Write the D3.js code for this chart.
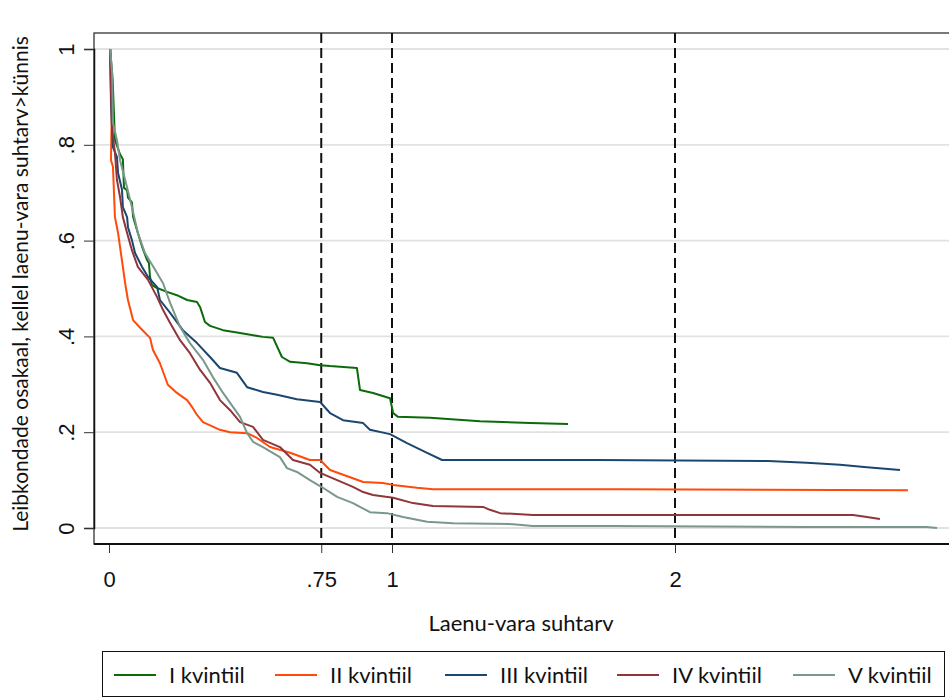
<!DOCTYPE html>
<html>
<head>
<meta charset="utf-8">
<script src="https://cdn.jsdelivr.net/npm/d3@7"></script>
<style>
  body { margin: 0; background: #fff; }
  svg { font-family: Lato, "Open Sans", sans-serif; }
</style>
</head>
<body>
<svg id="chart" width="949" height="699"></svg>
<script>
// share of households with loan-to-value above threshold, by income quintile
var seriesNames = ["I kvintiil", "II kvintiil", "III kvintiil", "IV kvintiil", "V kvintiil"]
var seriesColors = ["#0b6b0b", "#ff4a0a", "#1a476f", "#90353b", "#7a978c"]

var q1 = [[0.004,1],[0.013,0.935],[0.021,0.81],[0.039,0.78],[0.049,0.77],[0.053,0.71],[0.064,0.705],[0.067,0.69],
  [0.081,0.68],[0.085,0.65],[0.102,0.616],[0.117,0.587],[0.134,0.56],[0.141,0.553],[0.145,0.524],[0.152,0.507],
  [0.17,0.501],[0.205,0.493],[0.24,0.486],[0.276,0.476],[0.311,0.472],[0.322,0.461],[0.339,0.43],[0.357,0.422],
  [0.403,0.413],[0.463,0.407],[0.544,0.399],[0.58,0.397],[0.611,0.357],[0.64,0.347],[0.70,0.344],[0.746,0.34],
  [0.781,0.338],[0.876,0.334],[0.887,0.288],[0.933,0.282],[0.993,0.271],[1.004,0.24],[1.021,0.232],[1.134,0.23],
  [1.311,0.223],[1.488,0.219],[1.622,0.217]]

var q2 = [[0.004,1],[0.01,0.873],[0.007,0.768],[0.014,0.754],[0.021,0.649],[0.032,0.616],[0.049,0.545],[0.057,0.511],
  [0.067,0.476],[0.085,0.434],[0.11,0.418],[0.145,0.397],[0.155,0.372],[0.18,0.344],[0.208,0.299],[0.24,0.282],
  [0.276,0.267],[0.293,0.253],[0.311,0.236],[0.332,0.221],[0.392,0.205],[0.428,0.2],[0.488,0.198],[0.523,0.188],
  [0.569,0.169],[0.64,0.157],[0.71,0.142],[0.746,0.142],[0.781,0.121],[0.852,0.106],[0.898,0.096],[0.968,0.094],
  [1.004,0.09],[1.088,0.084],[1.145,0.081],[1.806,0.081],[2.823,0.079]]

var q3 = [[0.004,1],[0.007,0.887],[0.014,0.795],[0.028,0.775],[0.032,0.741],[0.046,0.706],[0.049,0.67],[0.064,0.649],
  [0.067,0.628],[0.081,0.601],[0.092,0.574],[0.117,0.545],[0.138,0.524],[0.17,0.503],[0.18,0.476],[0.216,0.449],
  [0.261,0.413],[0.311,0.386],[0.357,0.357],[0.392,0.334],[0.452,0.324],[0.488,0.294],[0.544,0.284],[0.594,0.278],
  [0.664,0.269],[0.746,0.263],[0.781,0.24],[0.827,0.225],[0.898,0.219],[0.922,0.205],[0.993,0.196],[1.053,0.177],
  [1.124,0.157],[1.177,0.142],[1.724,0.142],[2.329,0.14],[2.466,0.136],[2.583,0.132],[2.678,0.127],[2.795,0.121]]

var q4 = [[0.004,1],[0.007,0.91],[0.011,0.831],[0.021,0.783],[0.028,0.727],[0.039,0.691],[0.049,0.649],[0.064,0.616],
  [0.081,0.58],[0.102,0.545],[0.138,0.518],[0.17,0.482],[0.191,0.455],[0.216,0.428],[0.251,0.392],[0.286,0.365],
  [0.322,0.33],[0.357,0.303],[0.392,0.267],[0.428,0.246],[0.463,0.221],[0.509,0.211],[0.544,0.184],[0.604,0.169],
  [0.65,0.142],[0.71,0.132],[0.746,0.115],[0.806,0.1],[0.862,0.086],[0.898,0.075],[0.933,0.069],[1.004,0.063],
  [1.074,0.052],[1.145,0.046],[1.322,0.044],[1.346,0.038],[1.382,0.031],[1.498,0.027],[2.629,0.027],[2.678,0.023],
  [2.724,0.019]]

var q5 = [[0.004,1],[0.011,0.95],[0.014,0.846],[0.028,0.81],[0.039,0.768],[0.057,0.727],[0.081,0.67],[0.102,0.616],
  [0.127,0.574],[0.163,0.539],[0.191,0.511],[0.216,0.47],[0.251,0.42],[0.286,0.386],[0.332,0.351],[0.367,0.315],
  [0.403,0.282],[0.438,0.253],[0.463,0.232],[0.488,0.198],[0.509,0.18],[0.544,0.169],[0.604,0.148],[0.629,0.125],
  [0.664,0.117],[0.71,0.1],[0.756,0.084],[0.806,0.065],[0.862,0.052],[0.922,0.033],[0.982,0.031],[1.039,0.023],
  [1.124,0.013],[1.216,0.01],[1.428,0.008],[1.498,0.004],[1.781,0.004],[2.466,0.002],[2.89,0.002],[2.926,0]]

var seriesData = [q1, q2, q3, q4, q5]
var yTicks = [0, 0.2, 0.4, 0.6, 0.8, 1]
var yTickLabels = ["0", ".2", ".4", ".6", ".8", "1"]
var xTicks = [0, 0.75, 1, 2]
var xTickLabels = ["0", ".75", "1", "2"]
var thresholds = [0.75, 1, 2]

var dimensions = {
    width: 949,
    height: 699,
    plot: { left: 94, top: 33, right: 949, bottom: 544 }
}

var svg = d3.select("#chart")

var xScale = d3.scaleLinear().domain([0, 2]).range([109, 675])
var yScale = d3.scaleLinear().domain([0, 1]).range([528, 49])

// gridlines
svg.append("g")
   .selectAll("line")
   .data(yTicks)
   .enter()
   .append("line")
   .attr("x1", dimensions.plot.left)
   .attr("x2", dimensions.plot.right)
   .attr("y1", d => yScale(d))
   .attr("y2", d => yScale(d))
   .attr("stroke", "#e2e2e2")
   .attr("stroke-width", 1.8)

// plot region outline
svg.append("rect")
   .attr("x", dimensions.plot.left)
   .attr("y", dimensions.plot.top)
   .attr("width", dimensions.plot.right - dimensions.plot.left + 2)
   .attr("height", dimensions.plot.bottom - dimensions.plot.top)
   .attr("fill", "none")
   .attr("stroke", "#222")
   .attr("stroke-width", 1.2)

// threshold lines
svg.append("g")
   .selectAll("line")
   .data(thresholds)
   .enter()
   .append("line")
   .attr("x1", d => xScale(d))
   .attr("x2", d => xScale(d))
   .attr("y1", dimensions.plot.top)
   .attr("y2", dimensions.plot.bottom)
   .attr("stroke", "#111")
   .attr("stroke-width", 2)
   .attr("stroke-dasharray", "10,5")

var line = d3.line()
             .x(d => xScale(d[0]))
             .y(d => yScale(d[1]))

svg.append("g")
   .selectAll("path")
   .data(seriesData)
   .enter()
   .append("path")
   .attr("d", d => line(d))
   .attr("fill", "none")
   .attr("stroke", (_, i) => seriesColors[i])
   .attr("stroke-width", 2)
   .attr("stroke-linejoin", "round")

// y axis
var yAxisGen = d3.axisLeft(yScale)
                 .tickValues(yTicks)
                 .tickSize(10)
                 .tickFormat((d, i) => yTickLabels[i])
var yAxis = svg.append("g")
               .attr("transform", `translate(${dimensions.plot.left},0)`)
               .call(yAxisGen)
yAxis.select(".domain").attr("stroke", "#111").attr("stroke-width", 1.5)
yAxis.selectAll(".tick line").attr("stroke", "#333")
yAxis.selectAll(".tick text")
     .attr("x", 0).attr("dy", 0)
     .attr("transform", "translate(-26,0) rotate(-90)")
     .attr("text-anchor", "middle")
     .attr("dominant-baseline", "middle")
     .style("font-size", "22px")
     .style("fill", "#111")

// x axis
var xAxisGen = d3.axisBottom(xScale)
                 .tickValues(xTicks)
                 .tickSize(9)
                 .tickPadding(18)
                 .tickFormat((d, i) => xTickLabels[i])
var xAxis = svg.append("g")
               .attr("transform", `translate(0,${dimensions.plot.bottom})`)
               .call(xAxisGen)
xAxis.select(".domain").remove()
svg.append("line")
   .attr("x1", dimensions.plot.left).attr("x2", dimensions.plot.right)
   .attr("y1", dimensions.plot.bottom).attr("y2", dimensions.plot.bottom)
   .attr("stroke", "#111").attr("stroke-width", 2)
xAxis.selectAll(".tick line").attr("stroke", "#333")
xAxis.selectAll(".tick text")
     .style("font-size", "22px")
     .style("fill", "#111")

// titles
svg.append("text")
   .attr("x", 521).attr("y", 631)
   .attr("text-anchor", "middle")
   .style("font-size", "22px")
   .style("fill", "#111")
   .text("Laenu-vara suhtarv")

svg.append("text")
   .attr("transform", "translate(28,284) rotate(-90)")
   .attr("text-anchor", "middle")
   .style("font-size", "21px")
   .style("fill", "#111")
   .text("Leibkondade osakaal, kellel laenu-vara suhtarv>künnis")

// legend
var legend = svg.append("g")
legend.append("rect")
      .attr("x", 102.5).attr("y", 651.5)
      .attr("width", 842).attr("height", 45)
      .attr("fill", "#fff")
      .attr("stroke", "#111")
      .attr("stroke-width", 1)

var legendX = [114, 275, 445, 617, 793]
var items = legend.selectAll(".item")
                  .data(seriesNames)
                  .enter()
                  .append("g")
                  .attr("class", "item")
                  .attr("transform", (_, i) => `translate(${legendX[i]},675)`)
items.append("line")
     .attr("x1", 0).attr("x2", 42)
     .attr("stroke", (_, i) => seriesColors[i])
     .attr("stroke-width", 2)
items.append("text")
     .attr("x", 55)
     .attr("dy", "0.35em")
     .style("font-size", "22px")
     .style("fill", "#111")
     .text(d => d)
</script>
</body>
</html>
